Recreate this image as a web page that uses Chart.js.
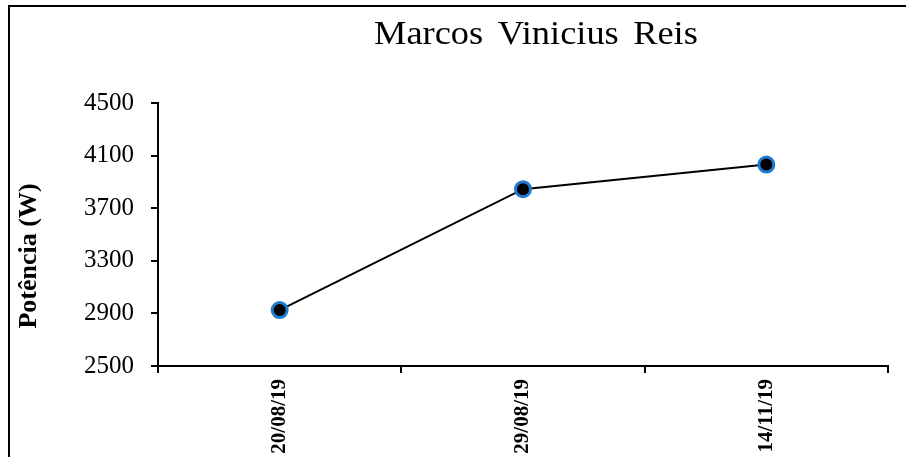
<!DOCTYPE html>
<html>
<head>
<meta charset="utf-8">
<script src="https://cdn.jsdelivr.net/npm/chart.js@4/dist/chart.umd.min.js"></script>
<style>
  html, body { margin: 0; padding: 0; background: #fff; }
  #wrap { width: 906px; height: 457px; position: relative; }
</style>
</head>
<body>
<div id="wrap"><canvas id="c" width="906" height="457"></canvas></div>
<script>
// Test dates and measured power
const dates = ['20/08/19', '29/08/19', '14/11/19'];
const power = [2925, 3845, 4032];
const yTicks = [2500, 2900, 3300, 3700, 4100, 4500];

const chartTitle = 'Marcos Vinicius Reis';
const yTitle = 'Potência (W)';

const SERIF = '"Liberation Serif", "Times New Roman", serif';

// Frame, chart title and rotated y-axis title
const decorations = {
  id: 'decorations',
  afterDraw(chart) {
    const ctx = chart.ctx;
    ctx.save();
    ctx.strokeStyle = '#000';
    ctx.lineWidth = 2;
    ctx.beginPath();
    ctx.moveTo(9, 457);
    ctx.lineTo(9, 6);
    ctx.lineTo(906, 6);
    ctx.stroke();

    ctx.fillStyle = '#000';
    ctx.font = '34px ' + SERIF;
    if ('wordSpacing' in ctx) ctx.wordSpacing = '5px';
    ctx.textAlign = 'center';
    ctx.textBaseline = 'alphabetic';
    ctx.save();
    ctx.translate(536, 44);
    ctx.scale(1.07, 1);
    ctx.fillText(chartTitle, 0, 0);
    ctx.restore();
    if ('wordSpacing' in ctx) ctx.wordSpacing = '0px';

    ctx.translate(29, 256);
    ctx.rotate(-Math.PI / 2);
    ctx.font = 'bold 26px ' + SERIF;
    ctx.textAlign = 'center';
    ctx.textBaseline = 'middle';
    ctx.fillText(yTitle, 0, 0);
    ctx.restore();
  }
};

new Chart(document.getElementById('c'), {
  type: 'line',
  data: {
    labels: dates,
    datasets: [{
      data: power,
      borderColor: '#000',
      borderWidth: 2,
      pointRadius: 7.5,
      pointBorderWidth: 3,
      pointBackgroundColor: '#000',
      pointBorderColor: '#1E7BD0',
      tension: 0
    }]
  },
  options: {
    responsive: false,
    animation: false,
    devicePixelRatio: 1,
    layout: { padding: { left: 0, right: 18, top: 103, bottom: 0 } },
    plugins: { legend: { display: false }, title: { display: false }, tooltip: { enabled: false } },
    scales: {
      x: {
        offset: true,
        afterFit(scale) { scale.height = 91; },
        border: { display: true, color: '#000', width: 2 },
        grid: { offset: true, drawOnChartArea: false, drawTicks: true, tickLength: 7, color: '#000', lineWidth: 2 },
        ticks: {
          minRotation: 90, maxRotation: 90, padding: 6, color: '#000',
          font: { family: SERIF, size: 21, weight: 'bold' }
        }
      },
      y: {
        min: 2500, max: 4500,
        afterFit(scale) { scale.width = 158; },
        afterBuildTicks(scale) { scale.ticks = yTicks.map(v => ({ value: v })); },
        border: { display: true, color: '#000', width: 2 },
        grid: { drawOnChartArea: false, drawTicks: true, tickLength: 7, color: '#000', lineWidth: 2 },
        ticks: {
          padding: 17, color: '#000',
          font: { family: SERIF, size: 25 },
          callback: v => String(v)
        }
      }
    }
  },
  plugins: [decorations]
});
</script>
</body>
</html>
